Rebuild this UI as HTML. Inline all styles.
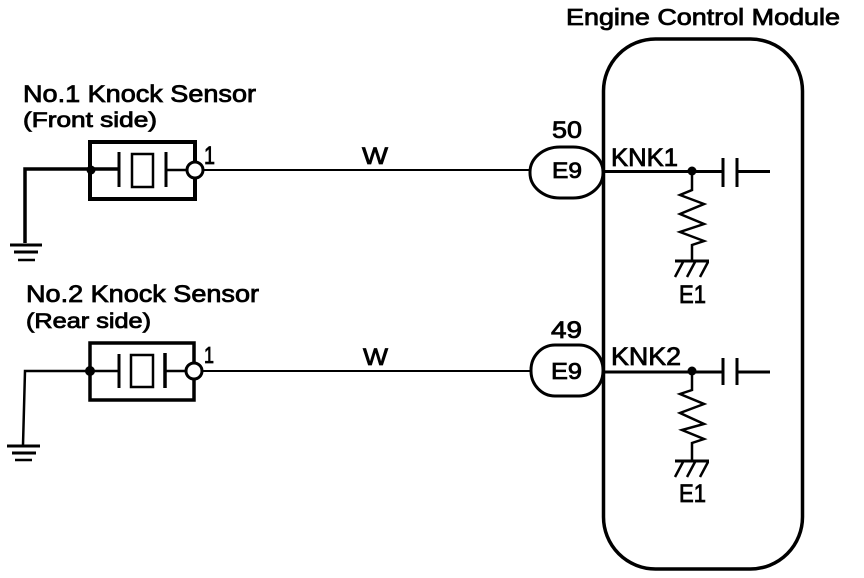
<!DOCTYPE html>
<html><head><meta charset="utf-8"><style>
html,body{margin:0;padding:0;background:#fff}
svg{display:block}
text{font-family:"Liberation Sans",sans-serif;fill:#000;stroke:#000;stroke-width:.8}
</style></head><body>
<svg width="864" height="578" viewBox="0 0 864 578" xmlns="http://www.w3.org/2000/svg">
<g fill="none" stroke="#000" stroke-width="3">
<rect x="603.5" y="39" width="199" height="530" rx="52" ry="52" stroke-width="3.5"/>
<!-- sensor 1 -->
<rect x="90" y="142" width="105" height="57" stroke-width="4"/>
<path d="M25 243V169H119" stroke-width="3.5"/>
<path d="M10 245H42" stroke-width="3"/><path d="M14 252H38" stroke-width="3"/><path d="M18 260H35" stroke-width="2.5"/>
<path d="M119 152V187" stroke-width="3"/><rect x="132" y="154" width="21" height="33" stroke-width="2.5"/><path d="M166 152V187" stroke-width="3"/>
<path d="M166 170H187" stroke-width="2.5"/>
<path d="M203 170H531" stroke-width="2"/>
<!-- sensor 2 -->
<rect x="90" y="343" width="104" height="57" stroke-width="3.5"/>
<path d="M23 445 25 371H119" stroke-width="2.5"/>
<path d="M7 446H40" stroke-width="3"/><path d="M12 453H36" stroke-width="3"/><path d="M15 460H32" stroke-width="2.5"/>
<path d="M119 354V388" stroke-width="3"/><rect x="131" y="355" width="22" height="32" stroke-width="2.5"/><path d="M165 353V388" stroke-width="3.5"/>
<path d="M165 371H186" stroke-width="2.5"/>
<path d="M202 371H531" stroke-width="2"/>
<!-- connectors -->
<rect x="530" y="147" width="73" height="51" rx="30" ry="25" fill="#fff" stroke-width="3"/>
<rect x="531" y="345" width="72" height="51" rx="24" ry="25" fill="#fff" stroke-width="3"/>
<!-- KNK1 -->
<path d="M603 171.500H723M737 171.500H770" stroke-width="3"/>
<path d="M723 158V187M737 158V187" stroke-width="3"/>
<path d="M692 172V190L680 195 704 204 680 214 704 224 680 232 704 241 692 245V261" stroke-width="2.500"/>
<path d="M675 261H709" stroke-width="3"/>
<path d="M683 262 675 277M695 262 687 277M708 262 700 277" stroke-width="2.500"/>
<!-- KNK2 -->
<path d="M603 372H723M737 372H770" stroke-width="3"/>
<path d="M723 358V385M737 358V385" stroke-width="3"/>
<path d="M692 372V390L680 394 704 404 680 413 704 424 682 430 704 439 692 443V461" stroke-width="2.500"/>
<path d="M675 461H709" stroke-width="3"/>
<path d="M683 462 675 477M695 462 687 477M708 462 700 477" stroke-width="2.500"/>
</g>
<g fill="#000">
<circle cx="91" cy="170" r="4.500"/><circle cx="90" cy="371" r="5"/>
<circle cx="692" cy="171" r="4.500"/><circle cx="692" cy="371" r="4.500"/>
</g>
<g fill="#fff" stroke="#000" stroke-width="3">
<circle cx="195" cy="170" r="8"/><circle cx="194" cy="371" r="8"/>
</g>
<g>
<text x="566" y="25" font-size="23" textLength="274" lengthAdjust="spacingAndGlyphs">Engine Control Module</text>
<text x="23" y="102" font-size="24" textLength="233" lengthAdjust="spacingAndGlyphs">No.1 Knock Sensor</text>
<text x="23" y="127" font-size="21" textLength="134" lengthAdjust="spacingAndGlyphs">(Front side)</text>
<text x="26" y="302" font-size="24" textLength="233" lengthAdjust="spacingAndGlyphs">No.2 Knock Sensor</text>
<text x="26" y="328" font-size="21" textLength="125" lengthAdjust="spacingAndGlyphs">(Rear side)</text>
<text x="204" y="164" font-size="25" textLength="11" lengthAdjust="spacingAndGlyphs">1</text>
<text x="204" y="363" font-size="23" textLength="10" lengthAdjust="spacingAndGlyphs">1</text>
<text x="362" y="164" font-size="24" textLength="26" lengthAdjust="spacingAndGlyphs">W</text>
<text x="363" y="365" font-size="24" textLength="25" lengthAdjust="spacingAndGlyphs">W</text>
<text x="552" y="138" font-size="24" textLength="30" lengthAdjust="spacingAndGlyphs">50</text>
<text x="551" y="338" font-size="24" textLength="31" lengthAdjust="spacingAndGlyphs">49</text>
<text x="552" y="178" font-size="22" textLength="30" lengthAdjust="spacingAndGlyphs">E9</text>
<text x="551" y="379" font-size="23" textLength="31" lengthAdjust="spacingAndGlyphs">E9</text>
<text x="611" y="166" font-size="25" textLength="67" lengthAdjust="spacingAndGlyphs">KNK1</text>
<text x="611" y="365" font-size="25" textLength="70" lengthAdjust="spacingAndGlyphs">KNK2</text>
<text x="679" y="303" font-size="25" textLength="27" lengthAdjust="spacingAndGlyphs">E1</text>
<text x="679" y="502" font-size="25" textLength="27" lengthAdjust="spacingAndGlyphs">E1</text>
</g>
</svg>
</body></html>
